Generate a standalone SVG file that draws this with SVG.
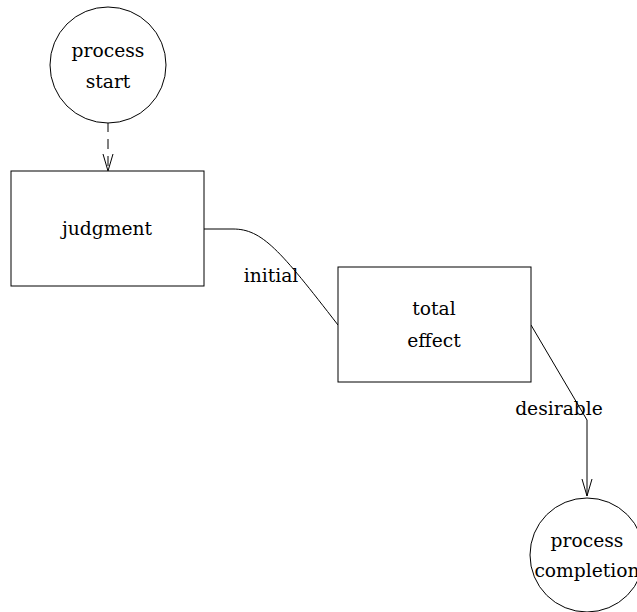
<svg xmlns="http://www.w3.org/2000/svg" width="637" height="612" viewBox="0 0 637 612">
<style>
.n{fill:#fff;stroke:#000;stroke-width:1}
.t{font-family:'DejaVu Serif','Liberation Serif',serif;font-size:18.7px;fill:#000;text-anchor:middle}
.e{fill:none;stroke:#000;stroke-width:1}
</style>
<rect width="637" height="612" fill="#fff"/>
<g id="connectors">
<path class="e" d="M108,122 L108,170" stroke-dasharray="10,7"/>
<path class="e" d="M103,154 L108,171 L113,154"/>
<path class="e" d="M204,229 L233,229 C262,229 280,250 338,325"/>
<path class="e" d="M531,325 L587,420 L587,496"/>
<path class="e" d="M582,479 L587,496 L592,479"/>
<text class="t" x="271" y="282">initial</text>
<text class="t" x="559" y="415">desirable</text>
</g>
<g id="process_start">
<circle class="n" cx="108" cy="65" r="58"/>
<text class="t" x="108" y="57">process</text>
<text class="t" x="108" y="88">start</text>
</g>
<g id="judgment">
<rect class="n" x="11" y="171" width="193" height="115"/>
<text class="t" x="107" y="235">judgment</text>
</g>
<g id="total_effect">
<rect class="n" x="338" y="267" width="193" height="115"/>
<text class="t" x="434" y="315">total</text>
<text class="t" x="434" y="347">effect</text>
</g>
<g id="process_completion">
<circle class="n" cx="587" cy="555" r="57"/>
<text class="t" x="587" y="547">process</text>
<text class="t" x="587" y="577">completion</text>
</g>
</svg>
